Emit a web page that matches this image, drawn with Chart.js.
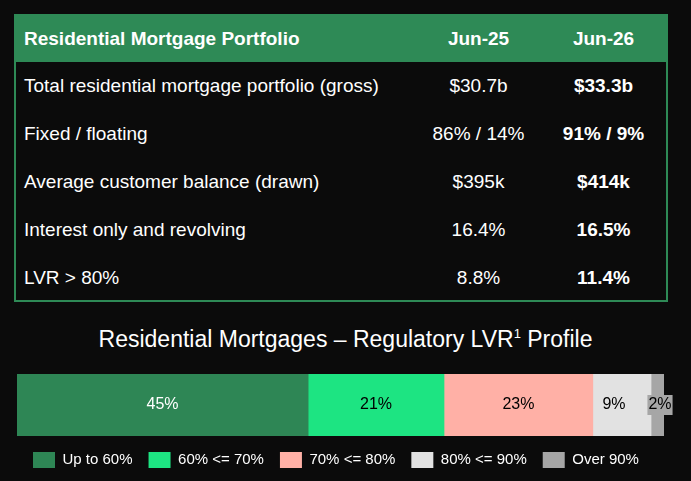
<!DOCTYPE html>
<html><head><meta charset="utf-8">
<script src="https://cdn.jsdelivr.net/npm/chart.js@4"></script>
<style>
body{margin:0;background:#0b0b0b;width:691px;height:481px;overflow:hidden;font-family:"Liberation Sans",Arial,sans-serif;color:#fff}
#tbl{position:absolute;left:14px;top:14px;width:650px;height:284px;border:2px solid #2e8a56;box-sizing:content-box}
table{border-collapse:collapse;width:100%;font-size:19px}
th{background:#2e8a56;height:46px;padding:0;font-weight:bold;text-align:center;font-size:19px}
th:first-child{text-align:left;padding-left:8px}
td{height:48px;padding:0;text-align:center}
td:first-child{text-align:left;padding-left:8px}
td.b{font-weight:bold}
#title{position:absolute;left:0;width:691px;top:326px;text-align:center;font-size:23px}
#box{position:absolute;left:-5px;top:374px;width:679px;height:104px}
</style></head><body>
<div id="tbl"><table>
<tr><th>Residential Mortgage Portfolio</th><th style="width:125px">Jun-25</th><th style="width:125px">Jun-26</th></tr>
<tr><td>Total residential mortgage portfolio (gross)</td><td>$30.7b</td><td class="b">$33.3b</td></tr>
<tr><td>Fixed / floating</td><td>86% / 14%</td><td class="b">91% / 9%</td></tr>
<tr><td>Average customer balance (drawn)</td><td>$395k</td><td class="b">$414k</td></tr>
<tr><td>Interest only and revolving</td><td>16.4%</td><td class="b">16.5%</td></tr>
<tr><td>LVR &gt; 80%</td><td>8.8%</td><td class="b">11.4%</td></tr>
</table></div>
<div id="title">Residential Mortgages – Regulatory LVR<sup style="font-size:13px">1</sup> Profile</div>
<div id="box"><canvas id="c"></canvas></div>
<script>
const bands = ['Up to 60%', '60% <= 70%', '70% <= 80%', '80% <= 90%', 'Over 90%'];
const shares = [45, 21, 23, 9, 2];
const colors = ['#2e8655', '#1de482', '#ffb0a6', '#e2e2e2', '#a6a6a6'];
const labelColors = ['#fff', '#000', '#000', '#000', '#000'];

const valueLabels = {
    id: 'valueLabels',
    afterDatasetsDraw(chart) {
        const ctx = chart.ctx;
        ctx.save();
        ctx.font = '16px "Liberation Sans", Arial';
        ctx.textAlign = 'center';
        ctx.textBaseline = 'middle';
        chart.data.datasets.forEach((ds, i) => {
            const bar = chart.getDatasetMeta(i).data[0];
            let x = (bar.x + bar.base) / 2;
            if (i === 4) {
                x = bar.x - 4;
                const w = ctx.measureText('2%').width;
                ctx.fillStyle = '#a6a6a6';
                ctx.fillRect(x - w / 2 - 1, bar.y - 10, w + 2, 20);
            }
            if (i === 3) x -= 8;
            ctx.fillStyle = labelColors[i];
            ctx.fillText(ds.data[0] + '%', x, bar.y);
        });
        ctx.restore();
    }
};

new Chart(document.getElementById('c'), {
    type: 'bar',
    data: {
        labels: [''],
        datasets: bands.map((b, i) => ({
            label: b, data: [shares[i]], backgroundColor: colors[i],
            barPercentage: 1, categoryPercentage: 1
        }))
    },
    options: {
        indexAxis: 'y', responsive: true, maintainAspectRatio: false, animation: false,
        layout: { padding: { left: 22, right: 10, top: 0, bottom: 0 } },
        scales: {
            x: { stacked: true, display: false, min: 0, max: 100 },
            y: { stacked: true, display: false }
        },
        plugins: {
            tooltip: { enabled: false },
            legend: {
                position: 'bottom', align: 'start',
                labels: { color: '#fff', boxWidth: 22, boxHeight: 16, padding: 16,
                    font: { size: 15, family: '"Liberation Sans", Arial' } }
            }
        }
    },
    plugins: [valueLabels]
});
</script>
</body></html>
